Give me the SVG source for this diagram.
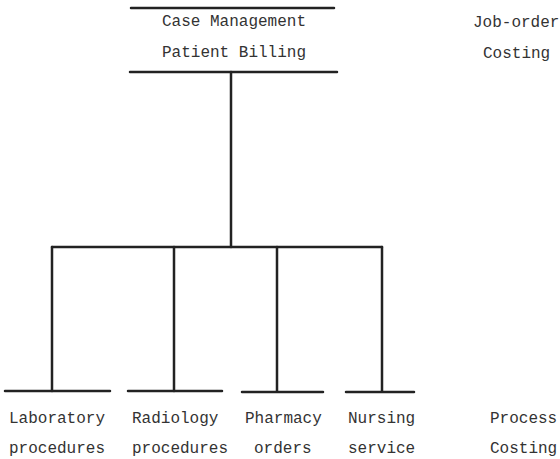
<svg xmlns="http://www.w3.org/2000/svg" width="560" height="459" viewBox="0 0 560 459">
<style>
text{font-family:"Liberation Mono","Courier New",monospace;font-size:16px;fill:#333}
.ln{stroke:#222;stroke-width:2.5;fill:none;stroke-linecap:round}
</style>
<rect width="560" height="459" fill="#ffffff"/>
<g id="top-node">
<line class="ln" x1="131" y1="8" x2="334" y2="8"/>
<text x="162" y="26">Case Management</text>
<text x="162" y="57">Patient Billing</text>
<line class="ln" x1="130" y1="72" x2="337" y2="72"/>
</g>
<g id="job-order-label">
<text x="473" y="27">Job-order</text>
<text x="483" y="58">Costing</text>
</g>
<g id="connectors">
<line class="ln" x1="231" y1="72" x2="231" y2="247"/>
<line class="ln" x1="52" y1="247" x2="382" y2="247"/>
<line class="ln" x1="52" y1="247" x2="52" y2="391"/>
<line class="ln" x1="174" y1="247" x2="174" y2="391"/>
<line class="ln" x1="277" y1="247" x2="277" y2="391"/>
<line class="ln" x1="382" y1="247" x2="382" y2="391"/>
</g>
<g id="laboratory">
<line class="ln" x1="5" y1="391" x2="110" y2="391"/>
<text x="9" y="423">Laboratory</text>
<text x="9" y="453">procedures</text>
</g>
<g id="radiology">
<line class="ln" x1="128" y1="391" x2="222" y2="391"/>
<text x="132" y="423">Radiology</text>
<text x="132" y="453">procedures</text>
</g>
<g id="pharmacy">
<line class="ln" x1="242" y1="392" x2="323" y2="392"/>
<text x="245" y="423">Pharmacy</text>
<text x="254" y="453">orders</text>
</g>
<g id="nursing">
<line class="ln" x1="346" y1="392" x2="414" y2="392"/>
<text x="348" y="423">Nursing</text>
<text x="348" y="453">service</text>
</g>
<g id="process-label">
<text x="490" y="423">Process</text>
<text x="490" y="453">Costing</text>
</g>
</svg>
